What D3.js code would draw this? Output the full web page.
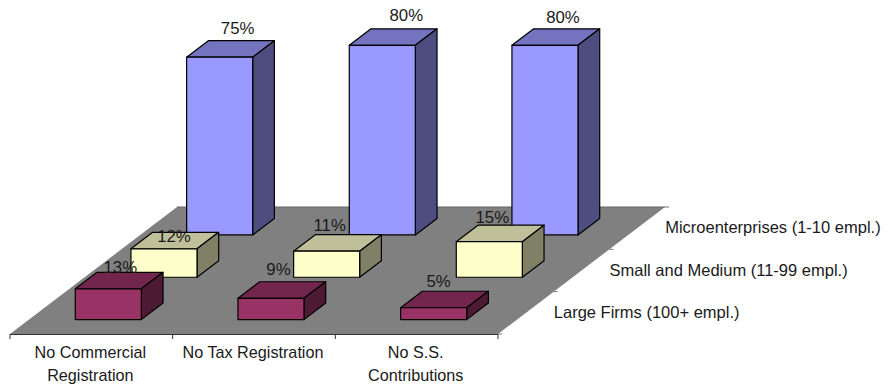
<!DOCTYPE html>
<html>
<head>
<meta charset="utf-8">
<script src="https://cdn.jsdelivr.net/npm/d3@7"></script>
<style>
  html, body { margin: 0; padding: 0; background: #fff; }
  svg { display: block; }
  text { font-family: "Liberation Sans", Arial, sans-serif; font-size: 16.2px; fill: #1a1a1a; }
  text.series { font-size: 16.5px; }
  text.value { font-size: 16.8px; }
</style>
</head>
<body>
<div id="chart"></div>
<script>
// Survey data: share of firms lacking each formal registration, by firm size.
const categories = [["No Commercial", "Registration"], ["No Tax Registration"], ["No S.S.", "Contributions"]];
const seriesNames = ["Large Firms (100+ empl.)", "Small and Medium (11-99 empl.)", "Microenterprises (1-10 empl.)"];
const largeFirms = [13, 9, 5];
const smallMedium = [12, 11, 15];
const microenterprises = [75, 80, 80];
const seriesValues = [largeFirms, smallMedium, microenterprises];

// Face colours per series: front, top, side.
const frontColors = ["#993366", "#FFFFCC", "#9999FF"];
const topColors = ["#73264D", "#BFBF99", "#7373BF"];
const sideColors = ["#4D1A33", "#808066", "#4D4D80"];

// Hand placement of value labels relative to each bar's front top centre: [dx, baseline dy].
const labelOffsets = [
  [[12, -16], [7.5, -23], [5, -21]],
  [[10, -7], [3, -20], [3, -19]],
  [[18, -23], [24, -24.5], [18, -22]]
];

const width = 888, height = 385;
const floorLeft = 10, floorRight = 498, floorFrontY = 334;
const depthDX = 167, depthDY = -127;

const svg = d3.select("#chart").append("svg").attr("width", width).attr("height", height);

// Category positions along the front edge of the floor.
const x = d3.scaleBand().domain(d3.range(categories.length)).range([floorLeft, floorRight]);
// Depth runs from 0 (front edge) to 1 (back edge) of the floor.
const slots = d3.scaleBand().domain(d3.range(seriesNames.length)).range([0, 1]);
// Bar height in pixels for a percentage value.
const h = d3.scaleLinear().domain([0, 100]).range([0, 237]);

const px = (u, d) => u + depthDX * d;
const py = (d) => floorFrontY + depthDY * d;
const pts = a => a.map(p => p.join(",")).join(" ");

// Floor
const fl = floorLeft, fr = floorRight;
svg.append("polygon")
  .attr("points", pts([[px(fl, 0), py(0)], [px(fr, 0), py(0)], [px(fr, 1), py(1)], [px(fl, 1), py(1)]]))
  .attr("fill", "#808080");
svg.append("line").attr("x1", px(fl, 1)).attr("x2", px(fr, 1)).attr("y1", py(1)).attr("y2", py(1))
  .attr("stroke", "#666").attr("stroke-width", 1);

// Category axis: front edge with ticks on the band boundaries
const axisG = svg.append("g");
axisG.append("line").attr("x1", fl).attr("x2", fr).attr("y1", floorFrontY + .5).attr("y2", floorFrontY + .5)
  .attr("stroke", "#333");
d3.range(categories.length + 1).forEach(i => {
  const tx = fl + x.step() * i;
  axisG.append("line").attr("x1", tx).attr("x2", tx).attr("y1", floorFrontY).attr("y2", floorFrontY + 5)
    .attr("stroke", "#333");
});
categories.forEach((lines, i) => {
  const t = axisG.append("text").attr("text-anchor", "middle").attr("y", 358);
  lines.forEach((s, k) => t.append("tspan").attr("x", x(i) + x.bandwidth() / 2 - 1).attr("dy", k ? 23 : 0).text(s));
});

// Series axis: ticks and names on the right-hand edge of the floor
seriesNames.forEach((name, j) => {
  const a = slots.step() * j;
  svg.append("line").attr("x1", px(fr, a)).attr("x2", px(fr, a) + 4).attr("y1", py(a)).attr("y2", py(a))
    .attr("stroke", "#777");
  svg.append("text").attr("class", "series").attr("x", px(fr, a + slots.bandwidth() / 2) + 28)
    .attr("y", py(a + slots.bandwidth() / 2) + 5).text(name);
});
svg.append("line").attr("x1", px(fr, 1)).attr("x2", px(fr, 1) + 4).attr("y1", py(1)).attr("y2", py(1))
  .attr("stroke", "#777");

// Bars, drawn back to front so nearer bars overlap further ones
const barInset = 0.285;         // share of a category band left of a bar
const barShare = 0.406;         // share of a category band taken by a bar
const depthInset = 0.34;        // share of a depth slot in front of a bar
const depthShare = 0.39;        // share of a depth slot taken by a bar
const barW = x.bandwidth() * barShare;
const barD = slots.bandwidth() * depthShare;

d3.range(seriesNames.length).reverse().forEach(j => {
  const g = svg.append("g");
  categories.forEach((_, i) => {
    const d0 = slots(j) + slots.bandwidth() * depthInset;
    const xl = px(x(i) + x.bandwidth() * barInset, d0), xr = xl + barW;
    const yb = py(d0), yt = yb - h(seriesValues[j][i]);
    const ox = depthDX * barD, oy = depthDY * barD;
    const face = (p, fill) => g.append("polygon").attr("points", pts(p)).attr("fill", fill)
      .attr("stroke", "#000").attr("stroke-width", 1.2).attr("stroke-linejoin", "round");
    face([[xl, yt], [xr, yt], [xr + ox, yt + oy], [xl + ox, yt + oy]], topColors[j]);
    face([[xr, yb], [xr, yt], [xr + ox, yt + oy], [xr + ox, yb + oy]], sideColors[j]);
    face([[xl, yb], [xr, yb], [xr, yt], [xl, yt]], frontColors[j]);
  });
});

// Value labels sit above everything else
seriesValues.forEach((vals, j) => {
  vals.forEach((v, i) => {
    const d0 = slots(j) + slots.bandwidth() * depthInset;
    const xc = px(x(i) + x.bandwidth() * barInset, d0) + barW / 2;
    const yt = py(d0) - h(v);
    svg.append("text").attr("class", "value").attr("text-anchor", "middle")
      .attr("x", xc + labelOffsets[j][i][0]).attr("y", yt + labelOffsets[j][i][1])
      .text(v + "%");
  });
});
</script>
</body>
</html>
